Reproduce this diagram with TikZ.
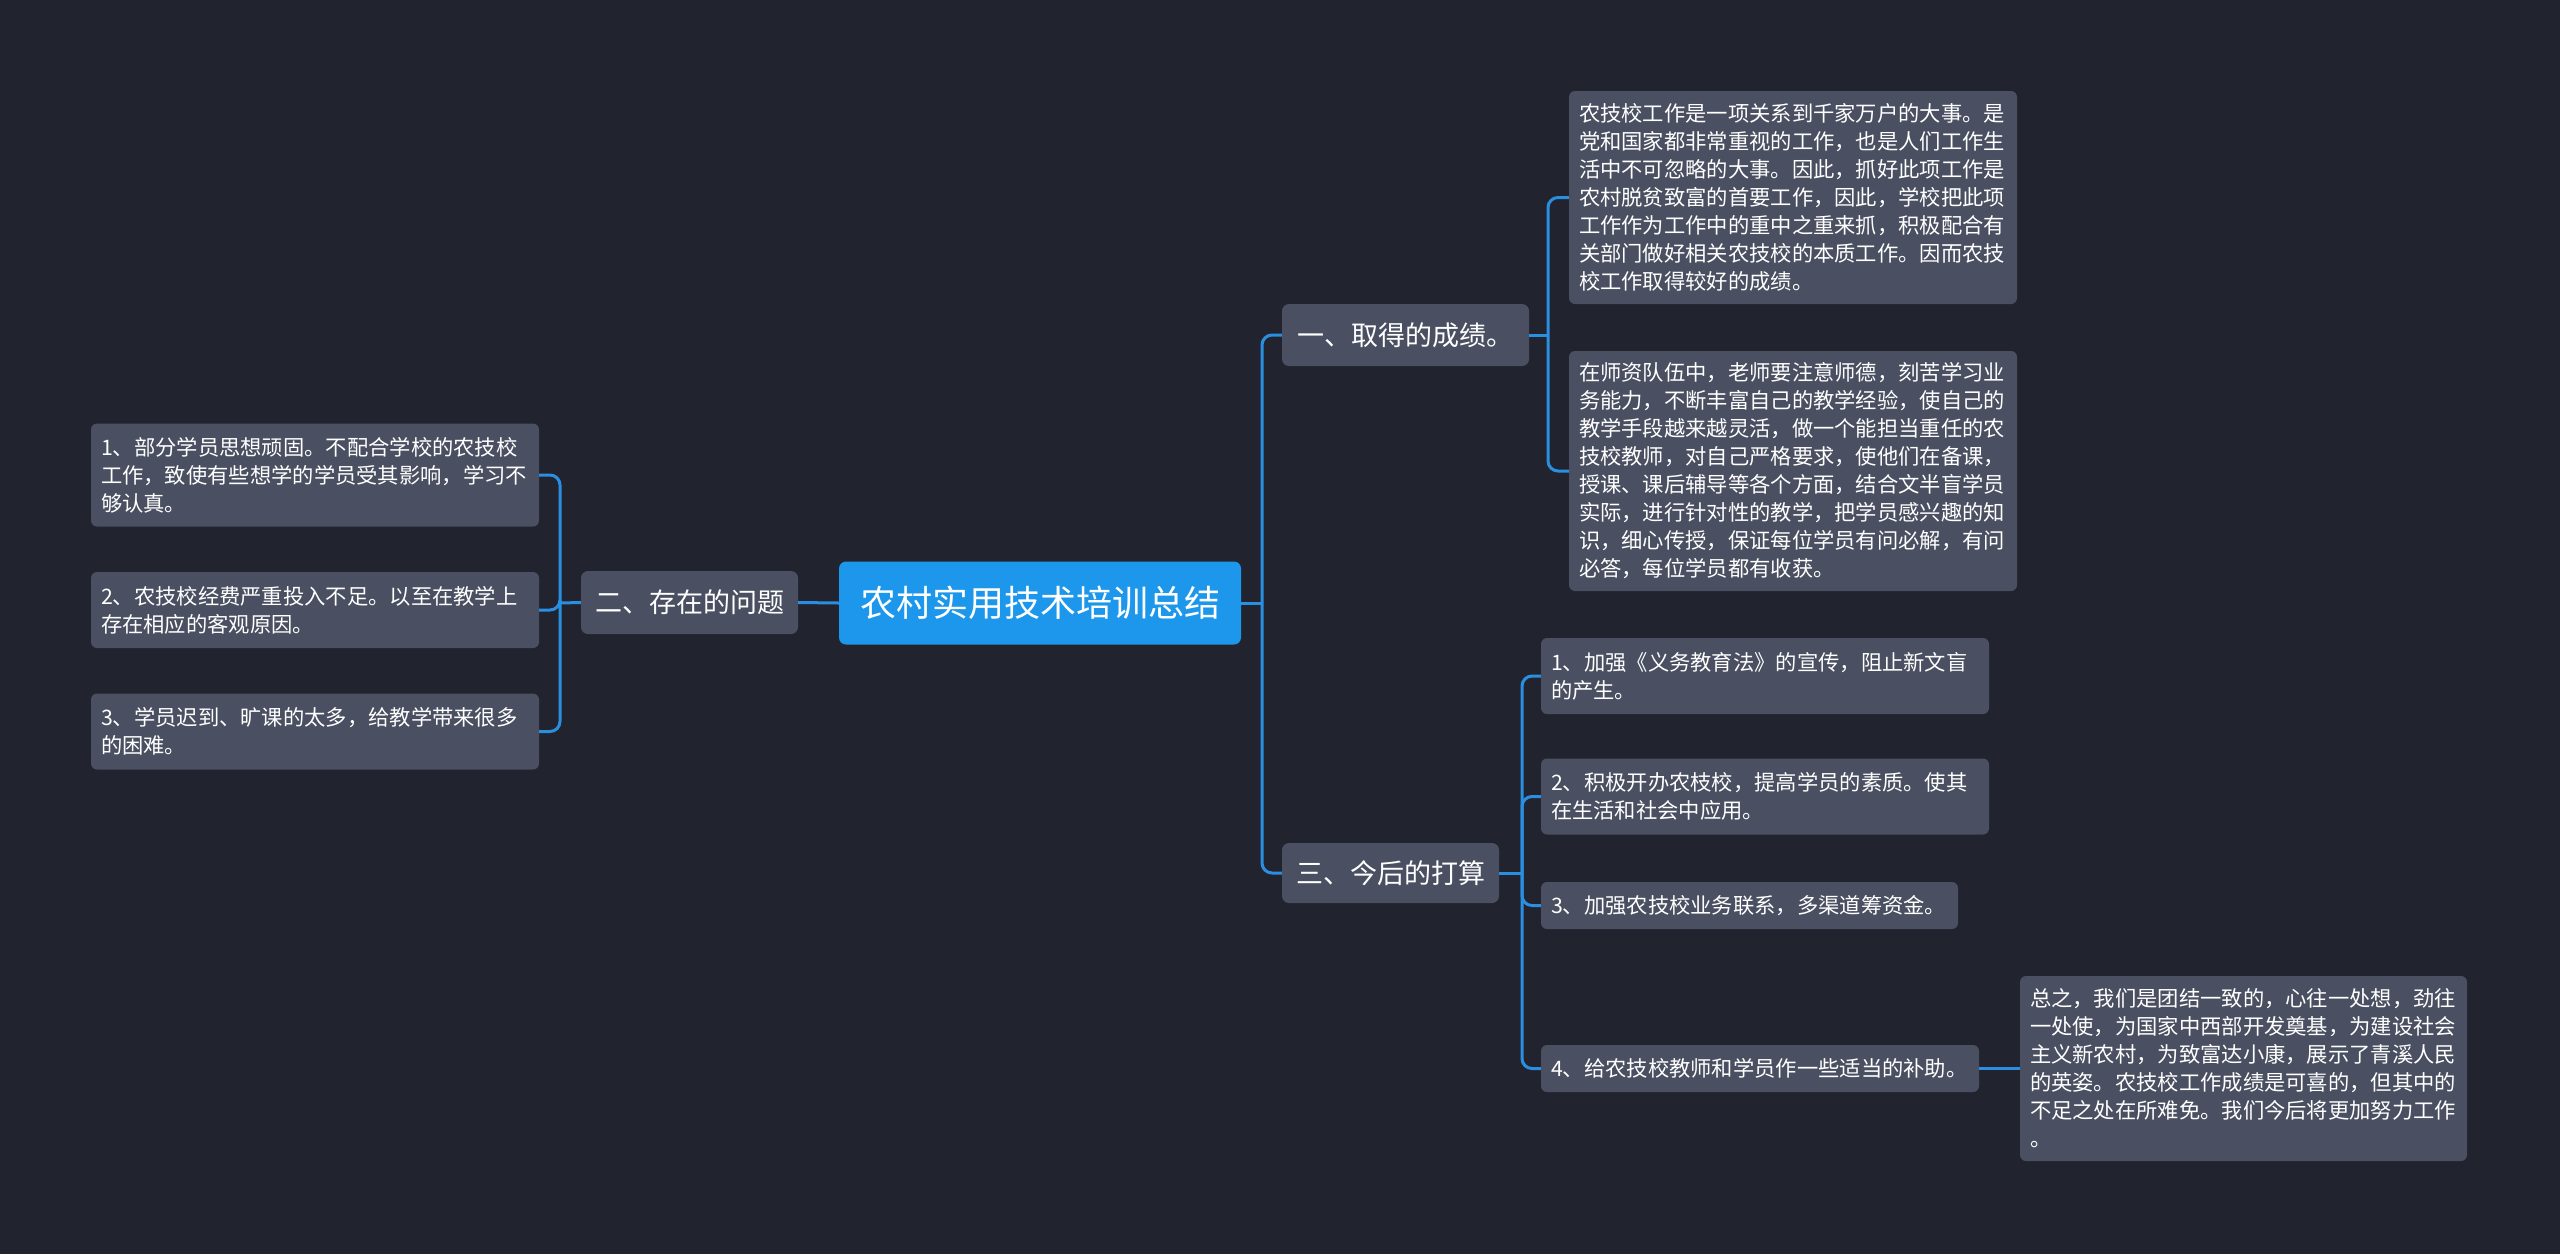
\documentclass[tikz,border=0pt]{standalone}
\usepackage{fontspec}
\setmainfont{Noto Sans CJK SC}
\definecolor{bgc}{HTML}{21242F}
\definecolor{nodefill}{HTML}{4A5061}
\definecolor{rootfill}{HTML}{1C97EB}
\definecolor{linec}{HTML}{2A8FE0}
\begin{document}
\begin{tikzpicture}[x=1pt,y=-1pt,
  leaf/.style={fill=nodefill, rounded corners=6pt, text=white,
    font=\fontsize{21.3}{28}\selectfont, align=left, inner xsep=10pt,
    inner ysep=0pt, anchor=center},
  topic/.style={fill=nodefill, rounded corners=7pt, text=white,
    font=\fontsize{27}{32}\selectfont, inner sep=0pt, anchor=center},
  rootbox/.style={fill=rootfill, rounded corners=7pt, text=white,
    font=\fontsize{36}{40}\selectfont, inner sep=0pt, anchor=center},
  conn/.style={draw=linec, line width=3pt, rounded corners=10pt}]
\fill[bgc] (0,0) rectangle (2560,1254);
\useasboundingbox (0,0) rectangle (2560,1254);

% root and topics
\node[rootbox, minimum width=402pt, minimum height=83pt] (root) at (1040,603) {农村实用技术培训总结};
\node[topic, minimum width=217pt, minimum height=63pt] (n2) at (689.5,602.5) {二、存在的问题};
\node[topic, minimum width=247pt, minimum height=62pt] (n1) at (1405.5,335) {一、取得的成绩。};
\node[topic, minimum width=217pt, minimum height=60pt] (n3) at (1390.5,873) {三、今后的打算};

% left leaves
\node[leaf, text width=428pt, minimum height=103pt] (l1) at (315,475) {1、部分学员思想顽固。不配合学校的农技校\\工作，致使有些想学的学员受其影响，学习不\\够认真。};
\node[leaf, text width=428pt, minimum height=76pt] (l2) at (315,610) {2、农技校经费严重投入不足。以至在教学上\\存在相应的客观原因。};
\node[leaf, text width=428pt, minimum height=76pt] (l3) at (315,731.5) {3、学员迟到、旷课的太多，给教学带来很多\\的困难。};

% right leaves of topic 1
\node[leaf, text width=428pt, minimum height=213pt] (r1) at (1793,197.5) {农技校工作是一项关系到千家万户的大事。是\\党和国家都非常重视的工作，也是人们工作生\\活中不可忽略的大事。因此，抓好此项工作是\\农村脱贫致富的首要工作，因此，学校把此项\\工作作为工作中的重中之重来抓，积极配合有\\关部门做好相关农技校的本质工作。因而农技\\校工作取得较好的成绩。};
\node[leaf, text width=428pt, minimum height=240pt] (r2) at (1793,471) {在师资队伍中，老师要注意师德，刻苦学习业\\务能力，不断丰富自己的教学经验，使自己的\\教学手段越来越灵活，做一个能担当重任的农\\技校教师，对自己严格要求，使他们在备课，\\授课、课后辅导等各个方面，结合文半盲学员\\实际，进行针对性的教学，把学员感兴趣的知\\识，细心传授，保证每位学员有问必解，有问\\必答，每位学员都有收获。};

% children of topic 3
\node[leaf, text width=428pt, minimum height=76pt] (c1) at (1765,676) {1、加强《义务教育法》的宣传，阻止新文盲\\的产生。};
\node[leaf, text width=428pt, minimum height=76pt] (c2) at (1765,796.5) {2、积极开办农枝校，提高学员的素质。使其\\在生活和社会中应用。};
\node[leaf, text width=397pt, minimum height=47pt] (c3) at (1749.5,905.5) {3、加强农技校业务联系，多渠道筹资金。};
\node[leaf, text width=418pt, minimum height=47pt] (c4) at (1760,1068.5) {4、给农技校教师和学员作一些适当的补助。};
\node[leaf, text width=427pt, minimum height=185pt] (f) at (2243.5,1068.5) {总之，我们是团结一致的，心往一处想，劲往\\一处使，为国家中西部开发奠基，为建设社会\\主义新农村，为致富达小康，展示了青溪人民\\的英姿。农技校工作成绩是可喜的，但其中的\\不足之处在所难免。我们今后将更加努力工作\\。};

% junctions
\coordinate (jr) at (1262,603);
\coordinate (j2) at (560,603);
\coordinate (j1) at (1548,335);
\coordinate (j3) at (1522,873);

% connectors
\draw[conn] (root.west) -- (n2.east);
\draw[conn] (root.east) -- (jr);
\draw[conn] (jr) |- (n1.west);
\draw[conn] (jr) |- (n3.west);

\draw[conn] (n2.west) -- (j2);
\draw[conn] (j2) |- (l1.east);
\draw[conn] (j2) |- (l2.east);
\draw[conn] (j2) |- (l3.east);

\draw[conn] (n1.east) -- (j1);
\draw[conn] (j1) |- (r1.west);
\draw[conn] (j1) |- (r2.west);

\draw[conn] (n3.east) -- (j3);
\draw[conn] (j3) |- (c1.west);
\draw[conn] (j3) |- (c2.west);
\draw[conn] (j3) |- (c3.west);
\draw[conn] (j3) |- (c4.west);

\draw[conn] (c4.east) -- (f.west);
\end{tikzpicture}
\end{document}
